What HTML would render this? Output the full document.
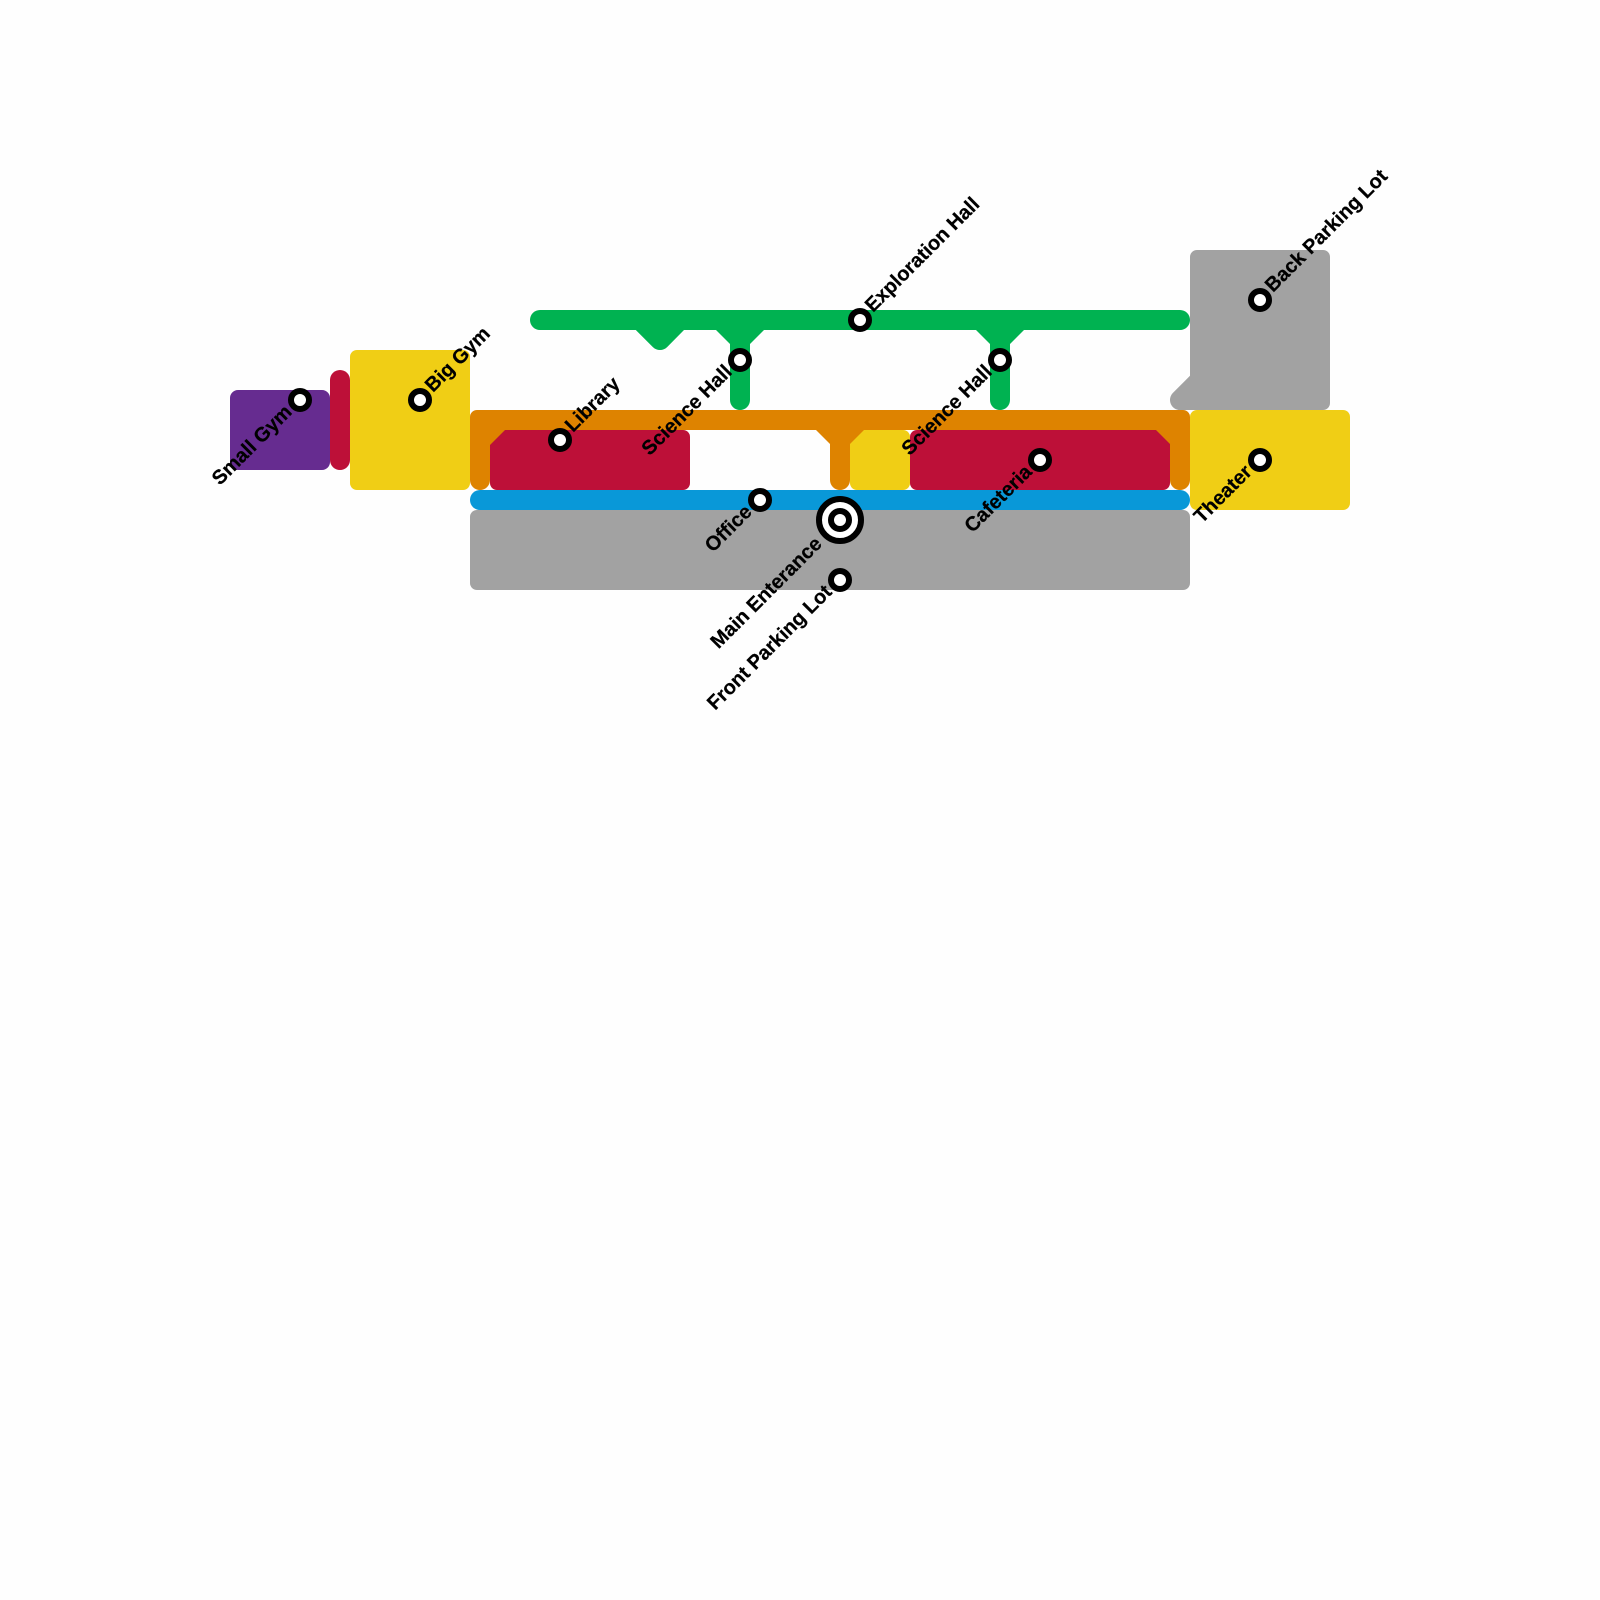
<!DOCTYPE html>
<html><head><meta charset="utf-8"><style>html,body{margin:0;padding:0;background:#fff}svg{display:block}text{font-family:"Liberation Sans",sans-serif;font-weight:700;font-size:20px;fill:#000;stroke:#000;stroke-width:.25px}</style></head><body>
<svg width="1600" height="1600" viewBox="0 0 1600 1600" xmlns="http://www.w3.org/2000/svg">
<rect width="1600" height="1600" fill="#fefefe"/>
<rect x="230" y="390" width="100" height="80" rx="8" fill="#662c90"/>
<rect x="330" y="370" width="20" height="100" rx="10" fill="#bd1038"/>
<rect x="350" y="350" width="120" height="140" rx="7" fill="#f0ce15"/>
<rect x="1190" y="410" width="160" height="100" rx="7" fill="#f0ce15"/>
<rect x="850" y="430" width="60" height="60" rx="7" fill="#f0ce15"/>
<rect x="490" y="430" width="200" height="60" rx="7" fill="#bd1038"/>
<rect x="910" y="430" width="260" height="60" rx="7" fill="#bd1038"/>
<rect x="470" y="510" width="720" height="80" rx="7" fill="#a2a2a2"/>
<path d="M1197,250H1323a7,7 0 0 1 7,7V403a7,7 0 0 1 -7,7H1180a10,10 0 0 1 -7.07,-17.07L1190,375.8V257a7,7 0 0 1 7,-7Z" fill="#a2a2a2"/>
<path d="M477,410H1183a7,7 0 0 1 7,7V480a10,10 0 0 1 -20,0V444L1156,430H864L850,444V480a10,10 0 0 1 -20,0V444L816,430H505L490,445V480a10,10 0 0 1 -20,0V417a7,7 0 0 1 7,-7Z" fill="#de8300"/>
<rect x="470" y="490" width="720" height="20" rx="10" fill="#0998d8"/>
<path d="M540,310H1180a10,10 0 0 1 0,20H1024L1010,344V400a10,10 0 0 1 -20,0V344L976,330H764L750,344V400a10,10 0 0 1 -20,0V344L716,330H684L667.1,347.1a10,10 0 0 1 -14.2,0L635.8,330H540a10,10 0 0 1 0,-20Z" fill="#00b251"/>
<g fill="#fff" stroke="#000" stroke-width="6">
<circle cx="300" cy="400" r="9"/><circle cx="420" cy="400" r="9"/><circle cx="560" cy="440" r="9"/><circle cx="740" cy="360" r="9"/><circle cx="1000" cy="360" r="9"/><circle cx="860" cy="320" r="9"/><circle cx="760" cy="500" r="9"/><circle cx="840" cy="580" r="9"/><circle cx="1040" cy="460" r="9"/><circle cx="1260" cy="460" r="9"/><circle cx="1260" cy="300" r="9"/>
<circle cx="840" cy="520" r="21"/>
<circle cx="840" cy="520" r="9"/>
</g>
<text text-anchor="end" transform="translate(293,413) rotate(-45)">Small Gym</text>
<text transform="translate(433,393) rotate(-45)">Big Gym</text>
<text transform="translate(573,433) rotate(-45)">Library</text>
<text text-anchor="end" transform="translate(733,373) rotate(-45)">Science Hall</text>
<text text-anchor="end" transform="translate(993,373) rotate(-45)">Science Hall</text>
<text transform="translate(873,313) rotate(-45)">Exploration Hall</text>
<text text-anchor="end" transform="translate(753,513) rotate(-45)">Office</text>
<text text-anchor="end" transform="translate(823,545) rotate(-45)">Main Enterance</text>
<text text-anchor="end" transform="translate(833,593) rotate(-45)">Front Parking Lot</text>
<text text-anchor="end" transform="translate(1033,473) rotate(-45)">Cafeteria</text>
<text text-anchor="end" transform="translate(1253,473) rotate(-45)">Theater</text>
<text transform="translate(1273,293) rotate(-45)">Back Parking Lot</text>
</svg>
</body></html>
